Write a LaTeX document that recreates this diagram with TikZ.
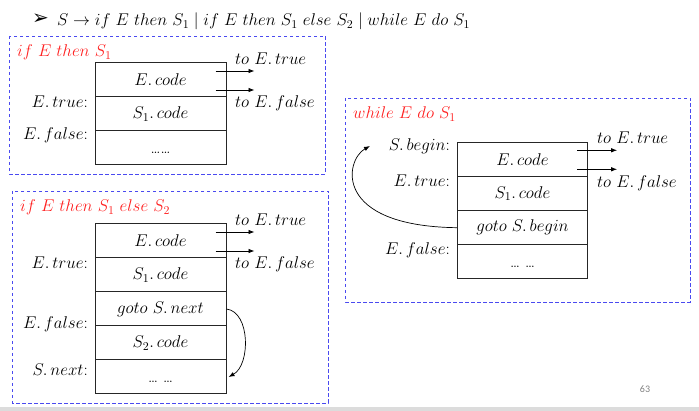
\documentclass[tikz,border=0pt]{standalone}
\usepackage{fix-cm}
\usepackage{fontspec}
\newfontfamily\dejavu{DejaVu Sans}
\newfontfamily\carlito{Carlito}
\usetikzlibrary{arrows.meta,calc}
\definecolor{dashblue}{HTML}{4A4AF0}
\definecolor{titlered}{HTML}{FF2020}
\definecolor{pagegray}{HTML}{808080}
\definecolor{bandgray}{HTML}{DCDCDC}
\newcommand{\lowdots}[1]{\raisebox{-6pt}[0pt][0pt]{#1}}
\begin{document}
\begin{tikzpicture}[x=1pt,y=-1pt,
  every node/.style={font=\fontsize{17}{20}\selectfont, inner sep=0pt},
  dbox/.style={draw=dashblue, line width=0.9pt, dash pattern=on 3.5pt off 2.5pt},
  cell/.style={draw=black!85, line width=1pt, minimum width=131pt, minimum height=34pt, inner sep=0pt},
  ttl/.style={text=titlered, anchor=base west},
  lab/.style={anchor=base east},
  tol/.style={anchor=base west},
  arr/.style={-{Latex[length=6pt,width=4.5pt]}, line width=0.8pt},
]
\useasboundingbox (0,0) rectangle (699,411);
\fill[bandgray] (0,407) rectangle (699,411);

% heading line
\node[anchor=west] (bul) at (32,19) {\dejavu\fontsize{20}{22}\selectfont ➢};
\node[anchor=base west] (gram) at (57,26) {$S\rightarrow if\ E\ then\ S_1\mid if\ E\ then\ S_1\ else\ S_2\mid while\ E\ do\ S_1$};

% ---------------- box 1 ----------------
\draw[dbox] (9,36) rectangle (325,174);
\node[ttl] (t1) at (17,57) {$if\ E\ then\ S_1$};
\node[cell] (a1) at (160.5,80) {$E.\,code$};
\node[cell] (a2) at (160.5,114) {$S_1.\,code$};
\node[cell] (a3) at (160.5,148) {\lowdots{……}};
\node[lab] (a1t) at (88,108) {$E.\,true$:};
\node[lab] (a1f) at (88,140) {$E.\,false$:};
\coordinate (a1e1) at ($(a1.east)+(28,-9)$);
\coordinate (a1e2) at ($(a1.east)+(28,10)$);
\draw[arr] ($(a1.east)+(-11,-9)$) -- (a1e1);
\draw[arr] ($(a1.east)+(-11,10)$) -- (a1e2);
\node[tol] (a1tt) at (235,65) {$to\ E.\,true$};
\node[tol] (a1tf) at (235,108) {$to\ E.\,false$};

% ---------------- box 2 ----------------
\draw[dbox] (12,191) rectangle (328,403);
\node[ttl] (t2) at (20,212) {$if\ E\ then\ S_1\ else\ S_2$};
\node[cell] (b1) at (160.5,241) {$E.\,code$};
\node[cell] (b2) at (160.5,275) {$S_1.\,code$};
\node[cell] (b3) at (160.5,309) {$goto\ S.\,next$};
\node[cell] (b4) at (160.5,343) {$S_2.\,code$};
\node[cell] (b5) at (160.5,377) {\lowdots{… …}};
\node[lab] (b1t) at (88,269) {$E.\,true$:};
\node[lab] (b1f) at (88,329) {$E.\,false$:};
\node[lab] (b1n) at (88,376) {$S.\,next$:};
\coordinate (b1e1) at ($(b1.east)+(28,-9)$);
\coordinate (b1e2) at ($(b1.east)+(28,10)$);
\draw[arr] ($(b1.east)+(-11,-9)$) -- (b1e1);
\draw[arr] ($(b1.east)+(-11,10)$) -- (b1e2);
\node[tol] (b1tt) at (235,226) {$to\ E.\,true$};
\node[tol] (b1tf) at (235,269) {$to\ E.\,false$};
\draw[arr, line width=0.7pt] (b3.east) .. controls +(24,3) and +(22,-12) .. ($(b5.east)+(2,0)$);

% ---------------- box 3 ----------------
\draw[dbox] (345,98) rectangle (690,302);
\node[ttl] (t3) at (353,119) {$while\ E\ do\ S_1$};
\node[cell, minimum width=130.4pt] (c1) at (522.5,159.7) {$E.\,code$};
\node[cell, minimum width=130.4pt] (c2) at (522.5,193.7) {$S_1.\,code$};
\node[cell, minimum width=130.4pt] (c3) at (522.5,227.7) {$goto\ S.\,begin$};
\node[cell, minimum width=130.4pt] (c4) at (522.5,261.5) {\lowdots{… …}};
\node[lab] (c1b) at (450,151) {$S.\,begin$:};
\node[lab] (c1t) at (450,187) {$E.\,true$:};
\node[lab] (c1f) at (450,255) {$E.\,false$:};
\coordinate (c1e1) at ($(c1.east)+(29,-9.4)$);
\coordinate (c1e2) at ($(c1.east)+(29,9.6)$);
\draw[arr] ($(c1.east)+(-11,-9.4)$) -- (c1e1);
\draw[arr] ($(c1.east)+(-11,9.6)$) -- (c1e2);
\node[tol] (c1tt) at (597,144) {$to\ E.\,true$};
\node[tol] (c1tf) at (597,188) {$to\ E.\,false$};
\coordinate (sb) at (370,146);
\draw[arr, line width=0.7pt] (c3.west) .. controls (332,226) and (345,160) .. (sb);

% page number
\node[font=\carlito\fontsize{10}{11}\selectfont, text=pagegray] (pg) at (645,389) {63};
\end{tikzpicture}
\end{document}
